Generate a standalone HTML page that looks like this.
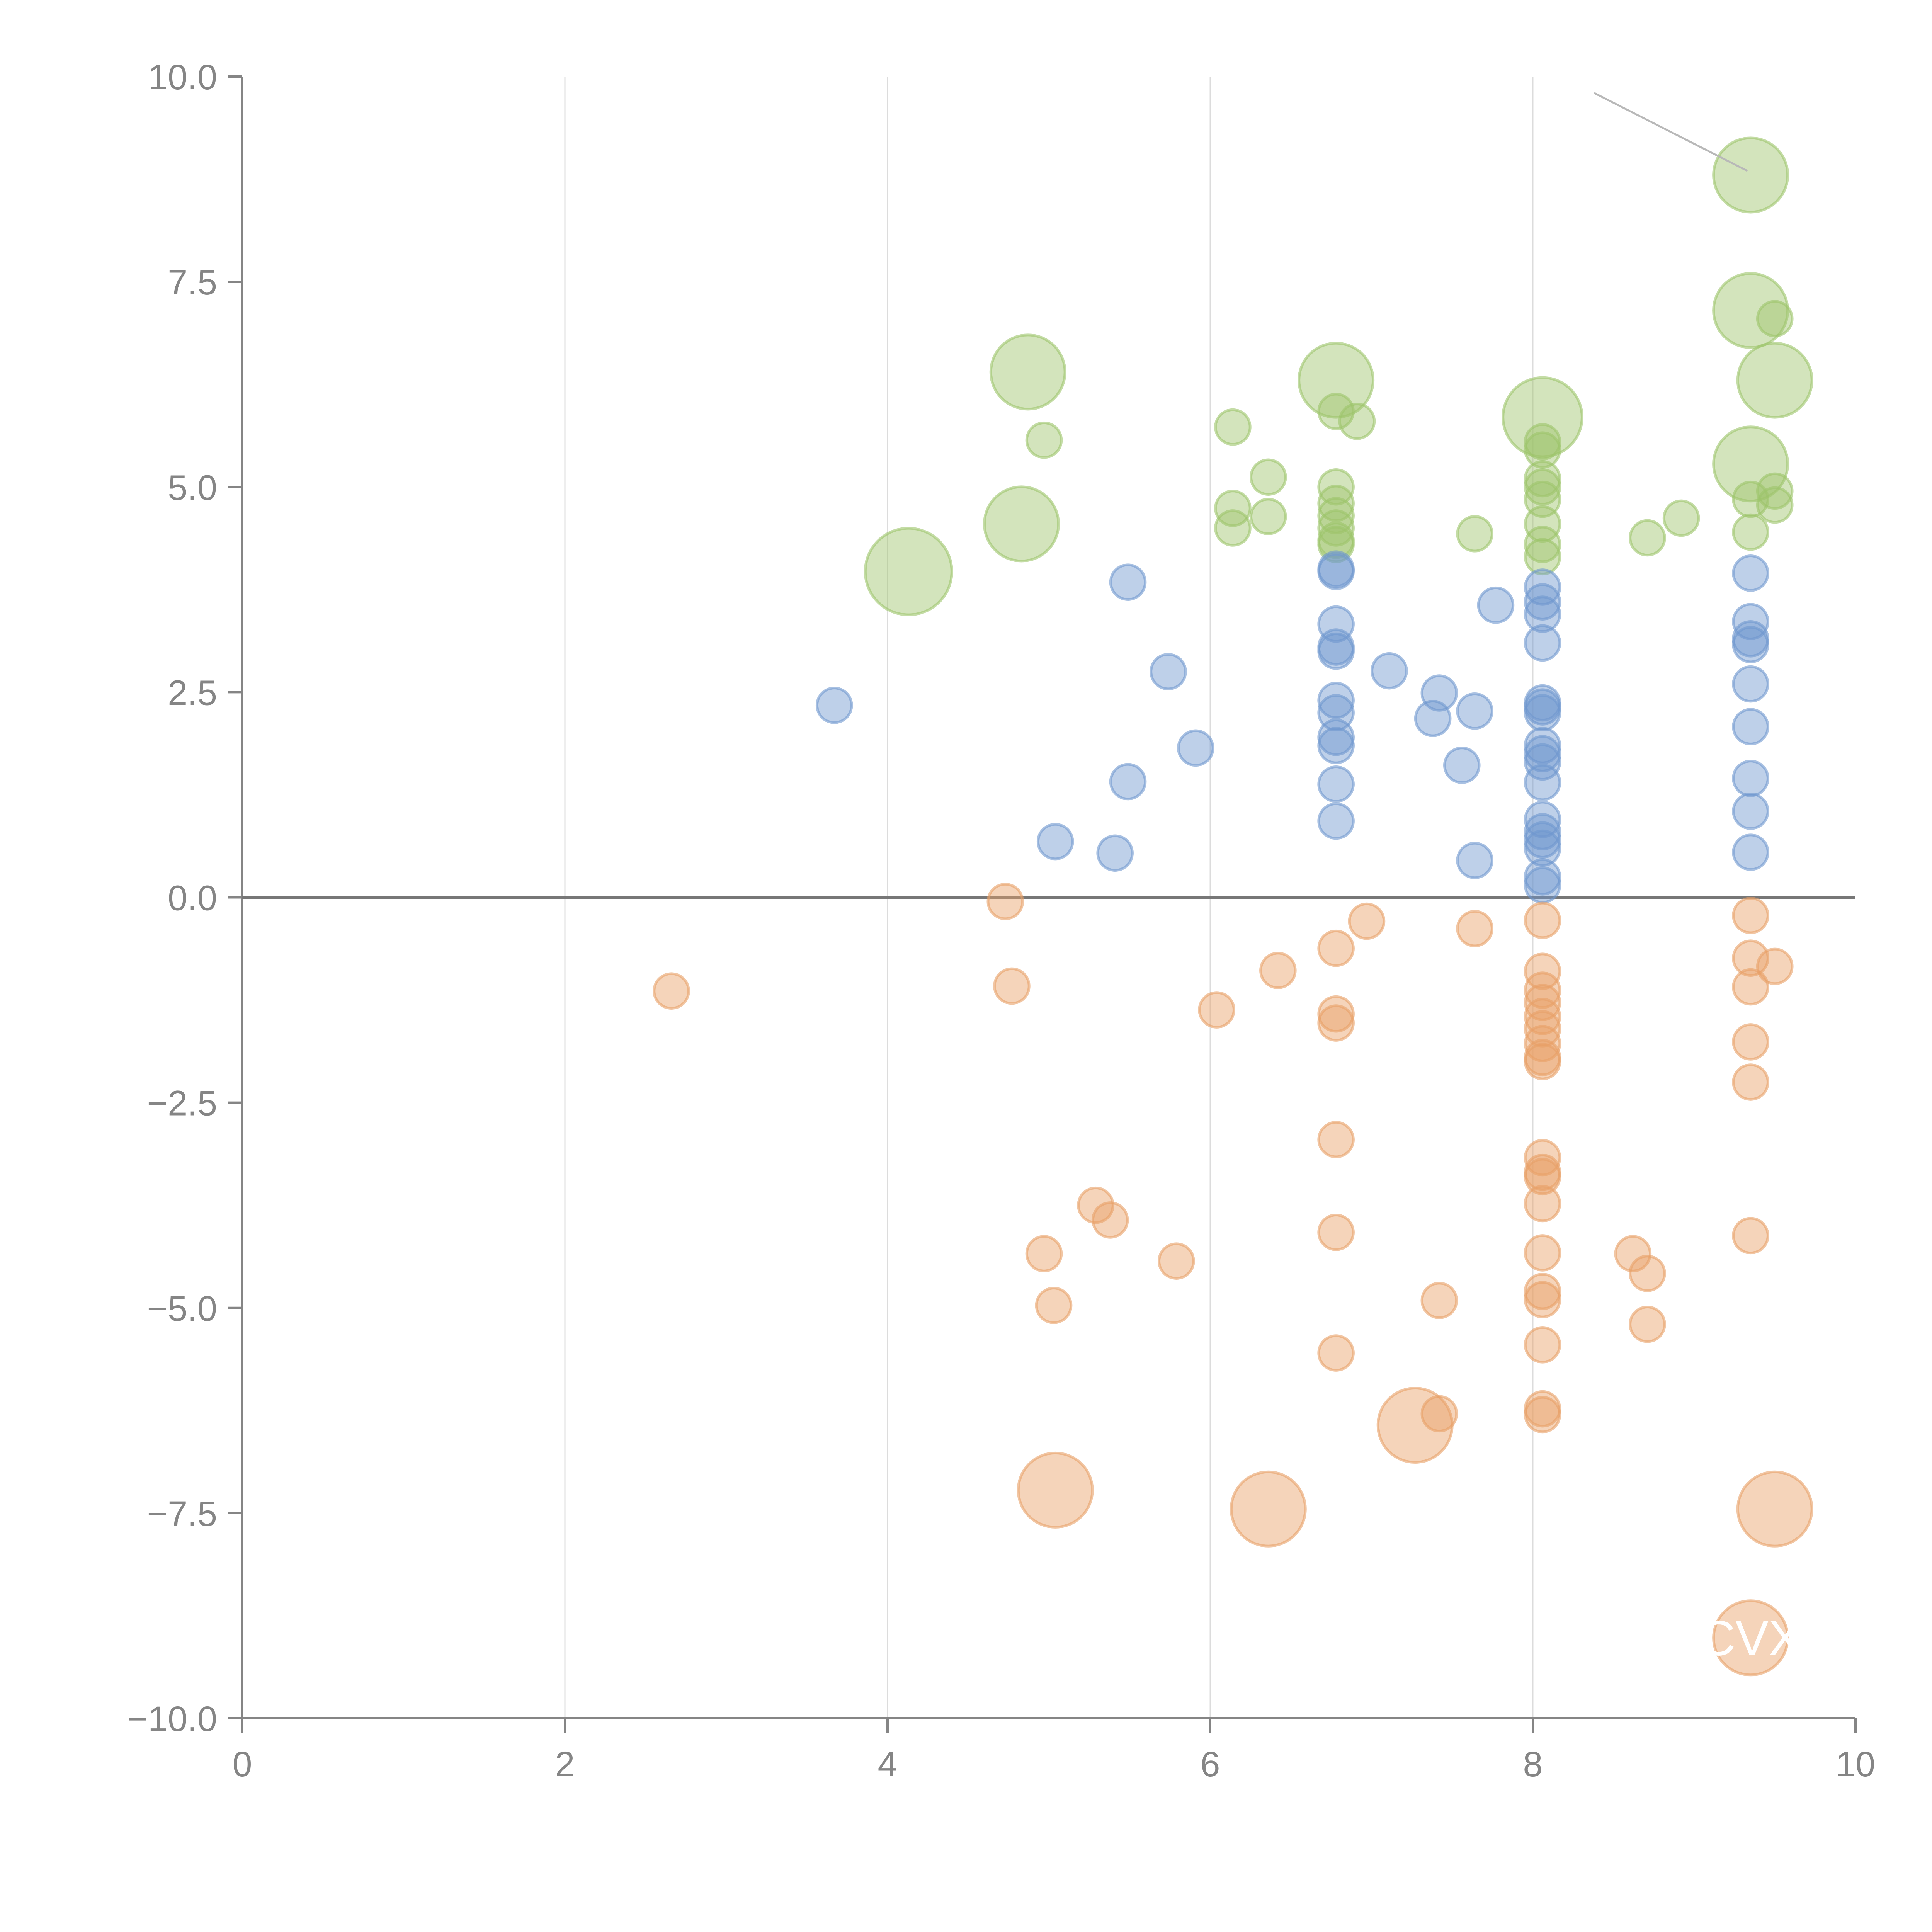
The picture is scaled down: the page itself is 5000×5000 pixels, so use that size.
<!DOCTYPE html>
<html><head><meta charset="utf-8"><style>
html,body{margin:0;padding:0;background:#fff}
svg{display:block}
text{font-family:"Liberation Sans",sans-serif}
</style></head><body>
<svg id="chart" width="5000" height="5000" viewBox="0 0 5000 5000">
<g id="grid"></g>
<g id="axes"></g>
<g id="marks"></g>
<g id="ann"></g>
</svg>
<script>
const xTicks=[0,2,4,6,8,10];
const yTicks=[-10,-7.5,-5,-2.5,0,2.5,5,7.5,10];
const yTickLabels=["\u221210.0","\u22127.5","\u22125.0","\u22122.5","0.0","2.5","5.0","7.5","10.0"];
// green series
const greenX=[9.35,9.35,9.5,9.5,4.87,6.78,8.06,9.35,4.83,4.13,4.97,6.14,6.36,6.14,6.14,6.36,6.78,6.91,6.78,6.78,6.78,6.78,6.78,6.78,7.64,8.71,8.92,8.06,8.06,8.06,8.06,8.06,8.06,8.06,8.06,9.35,9.35,9.5,9.5];
const greenY=[8.8,7.15,7.05,6.3,6.4,6.3,5.85,5.28,4.55,3.97,5.57,5.73,5.12,4.74,4.5,4.64,5.92,5.8,5.0,4.8,4.65,4.5,4.35,4.3,4.43,4.38,4.62,5.55,5.45,5.1,5.0,4.85,4.55,4.3,4.15,4.85,4.45,4.95,4.78];
const greenS=[30,30,14,30,30,30,32,30,30,35,14,14,14,14,14,14,14,14,14,14,14,14,14,14,14,14,14,14,14,14,14,14,14,14,14,14,14,14,14];
// blue series
const blueX=[3.67,5.49,5.74,5.91,5.49,5.04,5.41,6.78,6.78,6.78,6.78,6.78,6.78,6.78,6.78,6.78,6.78,6.78,7.11,7.42,7.38,7.64,7.56,7.64,7.77,8.06,8.06,8.06,8.06,8.06,8.06,8.06,8.06,8.06,8.06,8.06,8.06,8.06,8.06,8.06,8.06,8.06,9.35,9.35,9.35,9.35,9.35,9.35,9.35,9.35,9.35];
const blueY=[2.34,3.84,2.75,1.82,1.41,0.68,0.54,4.0,3.97,3.33,3.05,3.0,2.4,2.25,1.95,1.85,1.38,0.93,2.76,2.49,2.18,2.27,1.61,0.45,3.56,3.78,3.6,3.45,3.1,2.37,2.32,2.25,1.85,1.75,1.65,1.4,0.95,0.8,0.7,0.6,0.25,0.15,3.95,3.36,3.15,3.08,2.6,2.08,1.45,1.05,0.55];
// orange series
const orangeX=[2.66,4.73,4.77,6.97,6.42,6.04,7.64,6.78,6.78,6.78,6.78,6.78,6.78,5.29,5.38,4.97,5.79,5.03,7.42,7.42,8.06,8.06,8.06,8.06,8.06,8.06,8.06,8.06,8.06,8.06,8.06,8.06,8.06,8.06,8.06,8.06,8.06,8.06,8.06,8.62,8.71,8.71,9.35,9.35,9.35,9.35,9.35,9.35,9.5,5.04,6.36,7.27,9.5,9.35];
const orangeY=[-1.14,-0.05,-1.08,-0.29,-0.89,-1.37,-0.38,-0.62,-1.42,-1.53,-2.95,-4.08,-5.55,-3.75,-3.93,-4.34,-4.43,-4.97,-4.91,-6.29,-0.28,-0.9,-1.13,-1.28,-1.45,-1.6,-1.78,-1.95,-2.0,-3.17,-3.35,-3.4,-3.73,-4.33,-4.8,-4.9,-5.45,-6.23,-6.3,-4.34,-4.58,-5.2,-0.22,-0.74,-1.09,-1.76,-2.25,-4.12,-0.84,-7.22,-7.45,-6.43,-7.45,-9.02];
const orangeS=[14,14,14,14,14,14,14,14,14,14,14,14,14,14,14,14,14,14,14,14,14,14,14,14,14,14,14,14,14,14,14,14,14,14,14,14,14,14,14,14,14,14,14,14,14,14,14,14,14,30,30,30,30,30];

const NS="http://www.w3.org/2000/svg";
const X0=627,X1=4802,Y0=4447,Y1=198;
function xs(v){return X0+(v-0)/10*(X1-X0);}
function ys(v){return Y0-(v+10)/20*(Y0-Y1);}
function rs(s){return s*3.2;}
function mk(tag,attrs,parent){const e=document.createElementNS(NS,tag);for(const k in attrs)e.setAttribute(k,attrs[k]);parent.appendChild(e);return e;}
const grid=document.getElementById('grid'),axes=document.getElementById('axes'),marks=document.getElementById('marks'),ann=document.getElementById('ann');

xTicks.forEach(t=>{
  if(t>0&&t<10){
    const g=mk('line',{x1:xs(t),x2:xs(t),y1:Y1,y2:Y0,stroke:'#dcdcdc','stroke-width':3},grid);
    
    
  }
  const tk=mk('line',{x1:xs(t),x2:xs(t),y1:Y0,y2:Y0+38,stroke:'#858585','stroke-width':6},axes);
  
  
  const lb=mk('text',{x:xs(t),y:Y0+150,'text-anchor':'middle','font-size':92,fill:'#858585'},axes);
  lb.textContent=String(t);
  
  
});
yTicks.forEach((t,i)=>{
  const tk=mk('line',{x1:X0-38,x2:X0,y1:ys(t),y2:ys(t),stroke:'#858585','stroke-width':6},axes);
  
  
  const lb=mk('text',{x:X0-65,y:ys(t)+33,'text-anchor':'end','font-size':92,fill:'#858585'},axes);
  lb.textContent=yTickLabels[i];
  
  
});
const ya=mk('line',{x1:X0,x2:X0,y1:Y1,y2:Y0,stroke:'#858585','stroke-width':6},axes);


const xa=mk('line',{x1:X0,x2:X1,y1:Y0,y2:Y0,stroke:'#858585','stroke-width':6},axes);


const zl=mk('line',{x1:X0,x2:X1,y1:ys(0),y2:ys(0),stroke:'#777777','stroke-width':8},axes);



function series(xArr,yArr,sArr,color,name){
  xArr.forEach((x,i)=>{
    const s=sArr?sArr[i]:14;
    const c=mk('circle',{cx:xs(x),cy:ys(yArr[i]),r:rs(s),fill:color,'fill-opacity':0.45,stroke:color,'stroke-opacity':0.6,'stroke-width':7},marks);
    
    
  });
}
series(greenX,greenY,greenS,'#9dc46a','green-bubble');
series(blueX,blueY,null,'#6f97cf','blue-bubble');
series(orangeX,orangeY,orangeS,'#e8a067','orange-bubble');

const gl=mk('line',{x1:xs(8.38),y1:ys(9.8),x2:xs(9.33),y2:ys(8.85),stroke:'#b8b8b8','stroke-width':5},ann);


const cvx=mk('text',{x:xs(9.35),y:ys(-9.02)+45,'text-anchor':'middle','font-size':128,fill:'#ffffff'},ann);
cvx.textContent='CVX';


</script>
</body></html>
